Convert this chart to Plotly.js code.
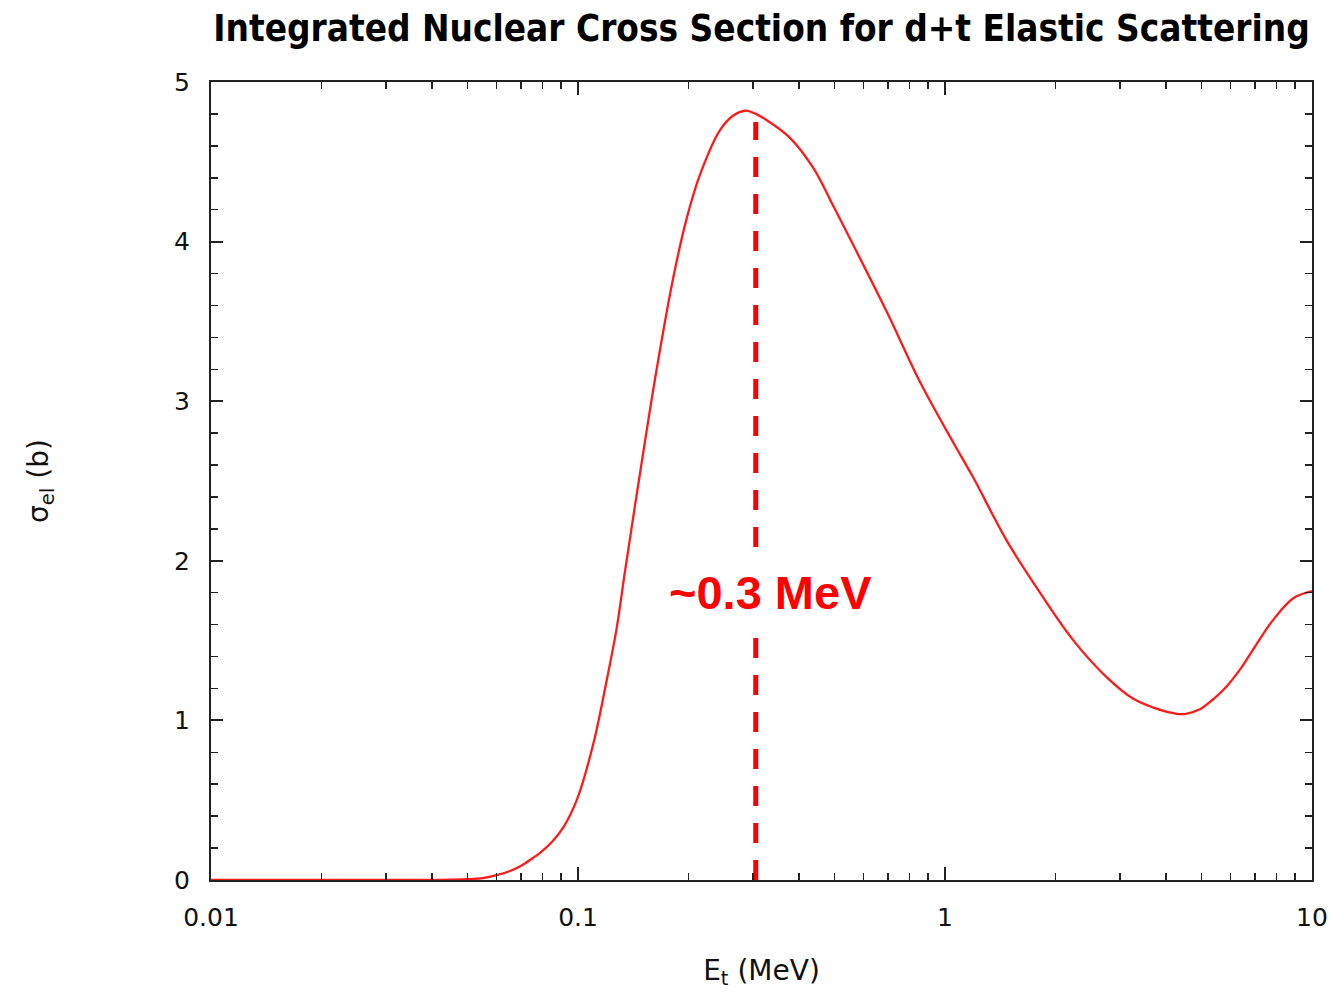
<!DOCTYPE html>
<html>
<head>
<meta charset="utf-8">
<script src="https://cdn.plot.ly/plotly-3.0.1.min.js"></script>
<style>
  html, body { margin: 0; padding: 0; background: #fff; }
  #chart { width: 1332px; height: 998px; }
</style>
</head>
<body>
<div id="chart"></div>
<script>
// Deuteron energy on the triton target (MeV)
const energy = [0.01, 0.02, 0.03, 0.04, 0.045, 0.05, 0.055, 0.06, 0.065, 0.07, 0.075, 0.0788,
  0.085, 0.0912, 0.0992, 0.11, 0.1197, 0.1275, 0.134, 0.1476, 0.1638, 0.182, 0.198, 0.215,
  0.244, 0.265, 0.285, 0.305, 0.327, 0.378, 0.438, 0.497, 0.562, 0.694, 0.855, 1.054, 1.195,
  1.47, 1.815, 2.24, 2.76, 3.26, 3.7, 4.2, 4.5, 4.95, 5.3, 5.73, 6.37, 7.07, 7.84, 8.89, 10];
// Integrated elastic cross section (barn)
const sigma = [0, 0, 0, 0, 0.002, 0.005, 0.012, 0.03, 0.055, 0.09, 0.135, 0.17,
  0.24, 0.33, 0.50, 0.85, 1.25, 1.58, 1.92, 2.55, 3.20, 3.78, 4.15, 4.42,
  4.70, 4.79, 4.82, 4.80, 4.76, 4.65, 4.46, 4.22, 3.98, 3.56, 3.12, 2.74, 2.52,
  2.13, 1.80, 1.50, 1.27, 1.135, 1.08, 1.045, 1.04, 1.07, 1.12, 1.19, 1.32, 1.48, 1.63, 1.765, 1.81];

// Peak marker
const peakEnergy = 0.305;
const peakMarkerTop = 4.75;
const peakLabel = '~0.3 MeV';
const peakLabelY = 1.80;

// Axis ticks
const xTickVals = [0.01, 0.1, 1, 10];
const xTickText = ['0.01', '0.1', '1', '10'];

const axisColor = '#222';
const tickFont = { family: 'DejaVu Sans, Open Sans, sans-serif', size: 25, color: '#111' };

const traces = [
  {
    x: energy, y: sigma, type: 'scatter', mode: 'lines',
    line: { color: '#ff1a1a', width: 2.3, shape: 'spline', smoothing: 1 },
    hoverinfo: 'skip'
  },
  {
    x: [peakEnergy, peakEnergy], y: [0, peakMarkerTop], type: 'scatter', mode: 'lines',
    line: { color: '#ff0000', width: 5, dash: '20px,17px' },
    hoverinfo: 'skip'
  }
];

const layout = {
  width: 1332, height: 998,
  margin: { l: 211, r: 20, t: 82, b: 118 },
  paper_bgcolor: '#fff', plot_bgcolor: '#fff',
  showlegend: false,
  title: {
    text: '<b>Integrated Nuclear Cross Section for d+t Elastic Scattering</b>',
    font: { family: 'DejaVu Sans Condensed, DejaVu Sans, sans-serif', size: 36.6, color: '#000' },
    xref: 'container', yref: 'container',
    x: 0.5717, xanchor: 'center', y: 0.972, yanchor: 'middle'
  },
  xaxis: {
    type: 'log', range: [-2, 1],
    tickvals: xTickVals, ticktext: xTickText,
    ticks: 'inside', ticklen: 13, tickwidth: 2, tickcolor: axisColor,
    minor: { dtick: 'D1', ticks: 'inside', ticklen: 7, tickwidth: 1.5, tickcolor: axisColor, showgrid: false },
    showline: true, linecolor: axisColor, linewidth: 2, mirror: 'ticks',
    showgrid: false, zeroline: false,
    tickfont: tickFont, ticklabelstandoff: 14,
    title: {
      text: 'E<sub>t</sub> (MeV)',
      font: { family: 'DejaVu Sans, sans-serif', size: 28, color: '#111' },
      standoff: 29
    }
  },
  yaxis: {
    range: [0, 5], dtick: 1,
    ticks: 'inside', ticklen: 12, tickwidth: 2, tickcolor: axisColor,
    minor: { dtick: 0.2, ticks: 'inside', ticklen: 7, tickwidth: 1.5, tickcolor: axisColor, showgrid: false },
    showline: true, linecolor: axisColor, linewidth: 2, mirror: 'ticks',
    showgrid: false, zeroline: false,
    tickfont: tickFont, ticklabelstandoff: 14,
    title: {
      text: 'σ<sub>el</sub> (b)',
      font: { family: 'DejaVu Sans, sans-serif', size: 28, color: '#111' },
      standoff: 117
    }
  },
  annotations: [
    {
      x: Math.log10(peakEnergy), y: peakLabelY, xref: 'x', yref: 'y',
      text: '<b>' + peakLabel + '</b>', showarrow: false,
      xshift: 15,
      font: { family: 'Liberation Sans, Arial, sans-serif', size: 47, color: '#ff0000' },
      bgcolor: '#fff', borderpad: 10
    }
  ]
};

Plotly.newPlot('chart', traces, layout, { displayModeBar: false, staticPlot: true });
</script>
</body>
</html>
